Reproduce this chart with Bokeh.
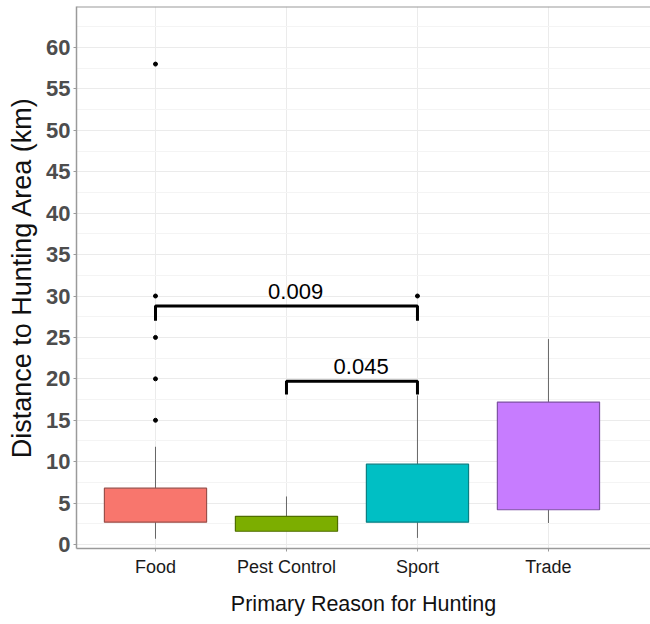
from bokeh.plotting import figure
from bokeh.models import (Range1d, FixedTicker, SingleIntervalTicker, Span,
                          ColumnDataSource)
from bokeh.core.properties import value
from bokeh.embed import file_html
from bokeh.resources import INLINE

# ---- data ----
categories = ["Food", "Pest Control", "Sport", "Trade"]
q1 = [2.7, 1.6, 2.7, 4.2]
median = [4.8, 2.2, 5.7, 9.8]
q3 = [6.8, 3.4, 9.7, 17.2]
whisker_low = [0.7, 1.6, 0.8, 2.6]
whisker_high = [11.8, 5.8, 18.0, 24.8]
fill_colors = ["#F8766D", "#7CAE00", "#00BFC4", "#C77CFF"]
line_colors = ["#9A4F4A", "#4F6E00", "#0B7F82", "#7E52A3"]
median_colors = ["#6E3A36", "#3E5500", "#0A5F61", "#5E3C7A"]

outlier_cat = ["Food", "Food", "Food", "Food", "Food", "Sport"]
outlier_val = [15, 20, 25, 30, 58, 30]

comp_from = ["Food", "Pest Control"]
comp_to = ["Sport", "Sport"]
comp_y = [28.8, 19.7]
comp_drop = [1.8, 1.6]
comp_label = ["0.009", "0.045"]

FONT = "Liberation Sans"
Y_MIN, Y_MAX = -0.48, 64.95

pos = {c: i + 1 for i, c in enumerate(categories)}
xs = [pos[c] for c in categories]

p = figure(width=650, height=618, output_backend="svg", toolbar_location=None,
           x_range=Range1d(0.397, 4.779), y_range=Range1d(Y_MIN, Y_MAX),
           min_border_left=76, min_border_right=0, min_border_top=6,
           min_border_bottom=66)
p.outline_line_color = None
p.background_fill_color = "white"

# grids
p.xaxis.ticker = FixedTicker(ticks=xs)
p.xaxis.major_label_overrides = {pos[c]: c for c in categories}
p.yaxis.ticker = SingleIntervalTicker(interval=5, num_minor_ticks=2)
p.ygrid.ticker = SingleIntervalTicker(interval=5, num_minor_ticks=2)
p.xgrid.ticker = FixedTicker(ticks=xs)
p.xgrid.grid_line_color = "#EBEBEB"
p.ygrid.grid_line_color = "#EBEBEB"
p.ygrid.minor_grid_line_color = "#F4F4F4"

# axes styling
for ax in (p.xaxis, p.yaxis):
    ax.axis_line_color = "#9A9A9A"
    ax.axis_line_width = 1.5
    ax.major_tick_line_color = "#9A9A9A"
    ax.minor_tick_line_color = None
    ax.major_tick_in = 0
    ax.major_tick_out = 3

p.yaxis.major_label_text_font = FONT
p.yaxis.major_label_text_font_size = "22px"
p.yaxis.major_label_text_font_style = "bold"
p.yaxis.major_label_text_color = "#4D4D4D"
p.yaxis.major_label_standoff = 2
p.yaxis.axis_label = "Distance to Hunting Area (km)"
p.yaxis.axis_label_text_font = FONT
p.yaxis.axis_label_text_font_size = "27px"
p.yaxis.axis_label_text_font_style = "normal"
p.yaxis.axis_label_text_color = "#111111"
p.yaxis.axis_label_standoff = 6

p.xaxis.major_label_text_font = FONT
p.xaxis.major_label_text_font_size = "18px"
p.xaxis.major_label_text_color = "#1A1A1A"
p.xaxis.major_label_standoff = 5
p.xaxis.axis_label = "Primary Reason for Hunting"
p.xaxis.axis_label_text_font = FONT
p.xaxis.axis_label_text_font_size = "21.5px"
p.xaxis.axis_label_text_font_style = "normal"
p.xaxis.axis_label_text_color = "#111111"
p.xaxis.axis_label_standoff = 12

# top border of the panel
p.add_layout(Span(location=Y_MAX, dimension="width", line_color="#9A9A9A",
                  line_width=2))

# boxes
src = ColumnDataSource(dict(x=xs, q1=q1, q3=q3, med=median, lo=whisker_low,
                            hi=whisker_high, fill=fill_colors, line=line_colors,
                            mcol=median_colors))
W = 0.78
p.segment(x0="x", y0="q3", x1="x", y1="hi", source=src, line_color="#666666", line_width=1)
p.segment(x0="x", y0="lo", x1="x", y1="q1", source=src, line_color="#666666", line_width=1)
p.vbar(x="x", width=W, bottom="q1", top="q3", source=src, fill_color="fill",
       line_color="line", line_width=1.2)
p.rect(x="x", y="med", width=W, height=0, source=src, line_color="mcol", line_width=2,
       fill_color=None)

# outliers
p.scatter([pos[c] for c in outlier_cat], outlier_val, size=4, color="black")

# significance brackets
bx, by = [], []
for a, b, y, d in zip(comp_from, comp_to, comp_y, comp_drop):
    bx.append([pos[a], pos[a], pos[b], pos[b]])
    by.append([y - d, y, y, y - d])
p.multi_line(bx, by, line_color="black", line_width=3)
p.text(x=[(pos[a] + pos[b]) / 2 + 0.07 for a, b in zip(comp_from, comp_to)],
       y=comp_y, text=comp_label, y_offset=-7,
       text_font=value(FONT), text_font_size="22px", text_color="black",
       text_align="center", text_baseline="bottom")

open("out.html", "w").write(file_html(p, INLINE))
